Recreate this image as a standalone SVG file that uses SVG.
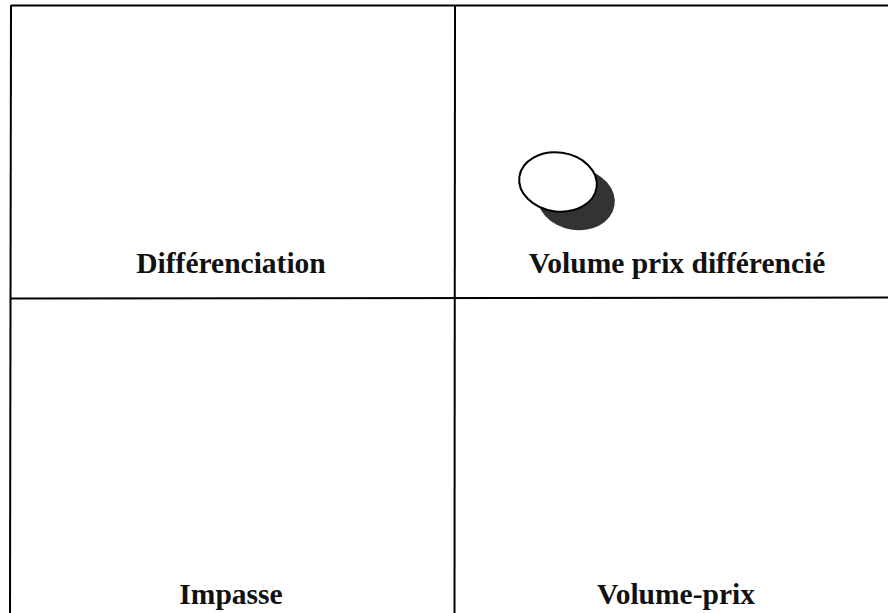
<svg xmlns="http://www.w3.org/2000/svg" width="888" height="613" viewBox="0 0 888 613">
<style>
.ln{stroke:#000;stroke-width:2;fill:none}
.lbl{font-family:"Liberation Serif","Times New Roman",serif;font-weight:bold;font-size:29.5px;fill:#111;text-anchor:middle}
</style>
<rect width="888" height="613" fill="#fff"/>
<g id="connectors">
<line class="ln" x1="11" y1="5.5" x2="888" y2="5.5"/>
<line class="ln" x1="11" y1="5" x2="10" y2="613"/>
<line class="ln" x1="455" y1="5" x2="454.5" y2="613"/>
<line class="ln" x1="10" y1="298.5" x2="888" y2="297.5"/>
</g>
<g id="q1"><text class="lbl" x="231" y="273">Différenciation</text></g>
<g id="q2"><text class="lbl" x="677" y="273">Volume prix différencié</text></g>
<g id="q3"><text class="lbl" x="231" y="604">Impasse</text></g>
<g id="q4"><text class="lbl" x="676" y="604">Volume-prix</text></g>
<g id="disc">
<ellipse cx="576" cy="199" rx="39" ry="31" transform="rotate(10 576 199)" fill="#333"/>
<ellipse cx="558" cy="182" rx="39" ry="29.5" transform="rotate(8 558 182)" fill="#fff" stroke="#000" stroke-width="2"/>
</g>
</svg>
